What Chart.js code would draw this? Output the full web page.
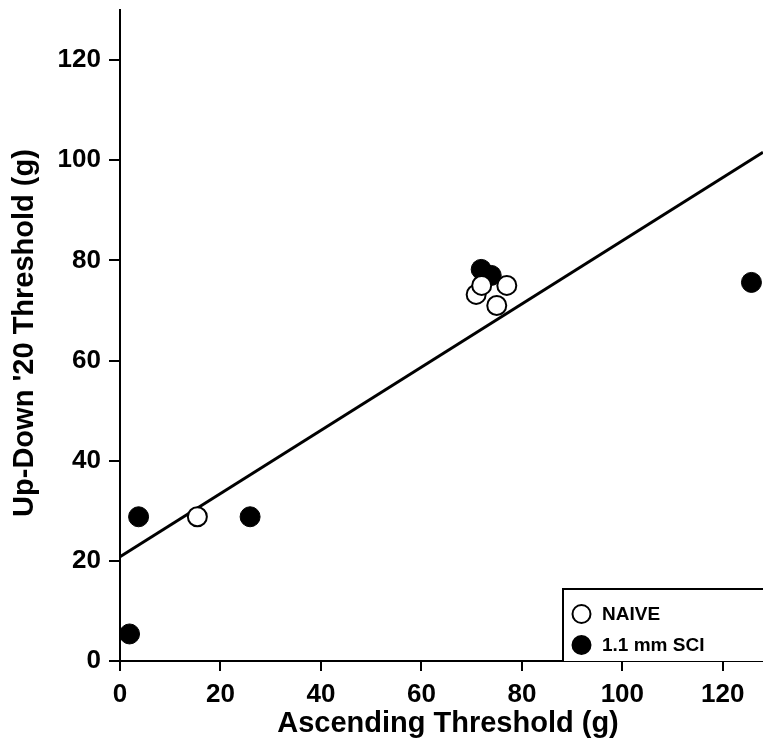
<!DOCTYPE html>
<html>
<head>
<meta charset="utf-8">
<script src="https://cdn.jsdelivr.net/npm/chart.js@4.4.1/dist/chart.umd.min.js"></script>
<style>
  html, body { margin: 0; padding: 0; background: #fff; }
  #wrap { width: 763px; height: 745px; }
</style>
</head>
<body>
<div id="wrap"><canvas id="chart" width="763" height="745"></canvas></div>
<script>
// data
const naiveX = [15.4, 70.9, 72.0, 75.0, 77.0];
const naiveY = [28.8, 73.2, 75.0, 71.0, 75.0];
const sciX = [1.9, 3.7, 25.9, 71.9, 73.9, 125.7];
const sciY = [5.4, 28.8, 28.8, 78.2, 77.0, 75.6];
const fitX = [0, 128];
const fitY = [20.8, 101.6];
const xTicks = [0, 20, 40, 60, 80, 100, 120];
const yTicks = [0, 20, 40, 60, 80, 100, 120];
const legendLabels = ['NAIVE', '1.1 mm SCI'];

const sans = "'Liberation Sans', Arial, sans-serif";

function toPoints(xs, ys) {
    return xs.map((x, i) => ({ x: x, y: ys[i] }));
}

// axis titles + boxed legend drawn by hand
const extras = {
    id: 'extras',
    afterDraw(chart) {
        const c = chart.ctx;
        c.save();
        c.fillStyle = '#000';
        c.textAlign = 'center';
        c.textBaseline = 'middle';
        c.font = 'bold 29px ' + sans;
        c.fillText('Ascending Threshold (g)', 448, 724);
        c.translate(25, 333);
        c.rotate(-Math.PI / 2);
        c.fillText("Up-Down '20 Threshold (g)", 0, 0);
        c.restore();

        // legend box
        c.save();
        c.fillStyle = '#fff';
        c.strokeStyle = '#000';
        c.lineWidth = 2;
        c.fillRect(563, 589, 205, 72);
        c.beginPath();
        c.moveTo(563, 661);
        c.lineTo(563, 589);
        c.lineTo(770, 589);
        c.stroke();
        const rows = [614, 645];
        legendLabels.forEach((lab, i) => {
            c.beginPath();
            c.arc(581.5, rows[i], 9, 0, Math.PI * 2);
            c.fillStyle = i === 0 ? '#fff' : '#000';
            c.fill();
            c.lineWidth = 2;
            c.strokeStyle = '#000';
            c.stroke();
            c.fillStyle = '#000';
            c.font = 'bold 19px ' + sans;
            c.textAlign = 'left';
            c.textBaseline = 'middle';
            c.fillText(lab, 602, rows[i] + 1);
        });
        c.restore();
    }
};

const ctx = document.getElementById('chart').getContext('2d');
const chart = new Chart(ctx, {
    type: 'scatter',
    data: {
        datasets: [{
            label: legendLabels[0],
            data: toPoints(naiveX, naiveY),
            pointRadius: 9.5,
            pointBackgroundColor: '#fff',
            pointBorderColor: '#000',
            pointBorderWidth: 2
        }, {
            label: legendLabels[1],
            data: toPoints(sciX, sciY),
            pointRadius: 10,
            pointBackgroundColor: '#000',
            pointBorderColor: '#000',
            pointBorderWidth: 1
        }, {
            label: 'fit',
            type: 'line',
            data: toPoints(fitX, fitY),
            borderColor: '#000',
            borderWidth: 3,
            pointRadius: 0,
            fill: false
        }]
    },
    options: {
        responsive: false,
        animation: false,
        layout: { autoPadding: false, padding: { top: 10, right: 0, left: 0, bottom: 0 } },
        plugins: {
            legend: { display: false },
            tooltip: { enabled: false }
        },
        scales: {
            x: {
                type: 'linear',
                min: 0,
                max: 128,
                afterBuildTicks: (s) => { s.ticks = xTicks.map(v => ({ value: v })); },
                afterFit: (s) => { s.height = 84; s.paddingLeft = 0; s.paddingRight = 0; },
                grid: { drawOnChartArea: false, drawTicks: true, tickLength: 10, color: '#000', lineWidth: 2 },
                border: { display: true, color: '#000', width: 2 },
                ticks: {
                    color: '#000',
                    padding: 8,
                    maxRotation: 0,
                    font: { family: sans, size: 26, weight: 'bold' }
                }
            },
            y: {
                type: 'linear',
                min: 0,
                max: 130,
                afterBuildTicks: (s) => { s.ticks = yTicks.map(v => ({ value: v })); },
                afterFit: (s) => { s.width = 120; s.paddingTop = 0; s.paddingBottom = 0; },
                grid: { drawOnChartArea: false, drawTicks: true, tickLength: 11, color: '#000', lineWidth: 2 },
                border: { display: true, color: '#000', width: 2 },
                ticks: {
                    color: '#000',
                    padding: 8,
                    font: { family: sans, size: 26, weight: 'bold' }
                }
            }
        }
    },
    plugins: [extras]
});
</script>
</body>
</html>
